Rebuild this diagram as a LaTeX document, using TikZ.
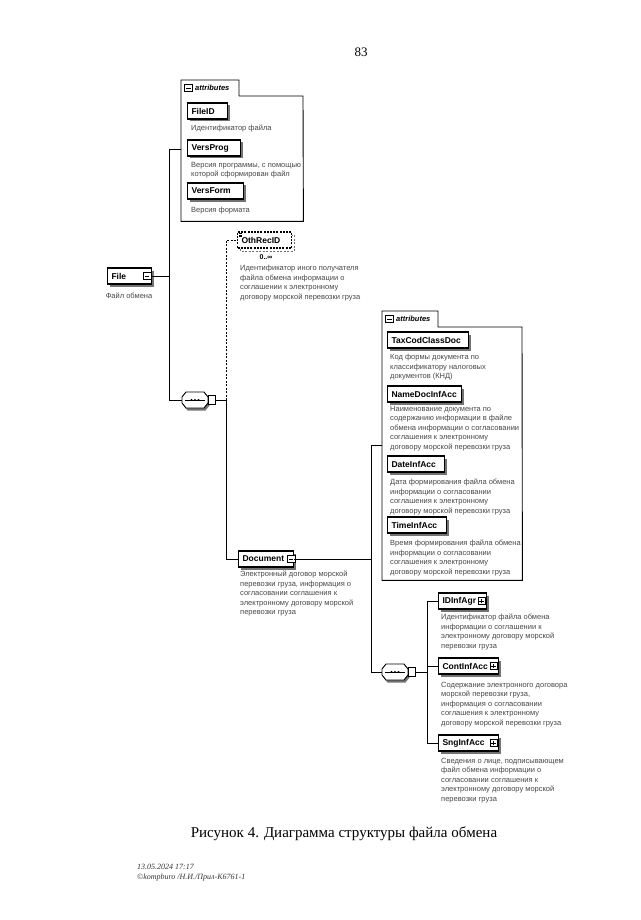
\documentclass[tikz,border=0pt]{standalone}
\usepackage{fontspec}
\setmainfont{Liberation Serif}
\setsansfont{Liberation Sans}
\usetikzlibrary{shadows}
\newcommand{\xseqpath}{(-13,-3) -- (-9,-8) -- (9,-8) -- (13,-3) -- (13,3) -- (9,8) -- (-9,8) -- (-13,3) -- cycle}
\tikzset{
  elem/.style={draw, fill=white, line width=1.1pt, font=\sffamily\bfseries\fontsize{8.5}{9}\selectfont,
    minimum height=16pt, inner xsep=4pt, inner ysep=0pt, align=left, anchor=west,
    drop shadow={shadow xshift=2.5pt, shadow yshift=-2.5pt, fill=black!55, opacity=1}},
  optelem/.style={draw, dash pattern=on 2pt off 1.2pt, fill=white, line width=1.1pt,
    font=\sffamily\bfseries\fontsize{8.5}{9}\selectfont,
    minimum height=16pt, inner xsep=4pt, inner ysep=0pt, align=left, anchor=west},
  desc/.style={anchor=north west, align=left, inner sep=0pt, font=\sffamily\fontsize{7.5}{9.5}\selectfont, text=black!72},
  mk/.style={draw, fill=white, minimum size=7.5pt, inner sep=0pt, line width=0.6pt},
  minusmk/.style={mk, path picture={\draw[line width=0.6pt] ([xshift=1.4pt]path picture bounding box.west) -- ([xshift=-1.4pt]path picture bounding box.east);}},
  plusmk/.style={mk, path picture={\draw[line width=0.6pt] ([xshift=1.4pt]path picture bounding box.west) -- ([xshift=-1.4pt]path picture bounding box.east);
      \draw[line width=0.6pt] ([yshift=-1.4pt]path picture bounding box.north) -- ([yshift=1.4pt]path picture bounding box.south);}},
  attrlbl/.style={font=\sffamily\bfseries\itshape\fontsize{7.5}{9}\selectfont, inner sep=0pt, anchor=west},
  attrframe/.style={draw, line width=0.9pt},
  seqline/.style={draw, fill=white, line width=0.9pt},
  seqshadow/.style={fill=black!55},
  seqsq/.style={draw, fill=white, line width=0.7pt, minimum width=7pt, minimum height=9pt, inner sep=0pt},
  conn/.style={line width=0.8pt},
  optconn/.style={line width=0.8pt, dash pattern=on 2pt off 1.5pt},
}
\begin{document}
\begin{tikzpicture}[x=1pt,y=-1pt]
\path[use as bounding box, fill=white] (0,0) rectangle (640,920);

% page number
\node[font=\fontsize{13}{15}\selectfont, inner sep=0pt] (pg) at (361,52) {83};

% ---------- attributes box 1 ----------
\node[inner sep=0pt, minimum width=122pt, minimum height=141pt, anchor=north west] (attrA) at (181,80) {};
\draw[attrframe] (attrA.south west) -- (attrA.north west) -- (239,80) -- (239,96) -- (303,96) -- (attrA.south east) -- cycle;
\node[minusmk] (attrAmk) at (188.5,88) {};
\node[attrlbl] (attrAtxt) at (195,88) {attributes};

\node[elem, text width=32pt] (FileID) at (187,111) {FileID};
\node[desc] (FileIDd) at (191,125) {Идентификатор файла};
\node[elem, text width=45pt] (VersProg) at (187,148) {VersProg};
\node[desc] (VersProgd) at (191,162) {Версия программы, с помощью\\которой сформирован файл};
\node[elem, text width=48pt] (VersForm) at (187,191) {VersForm};
\node[desc] (VersFormd) at (191,207) {Версия формата};

% ---------- File ----------
\node[elem, text width=36pt] (File) at (107,276) {File};
\node[minusmk] (Filemk) at ([xshift=-5pt]File.east) {};
\node[desc, anchor=north] (Filed) at (129,293) {Файл обмена};

% ---------- sequence 1 ----------
\node[inner sep=0pt, minimum width=26pt, minimum height=16pt] (seq1) at (195,400) {};
\begin{scope}[shift={(seq1.center)}]
  \fill[seqshadow, shift={(1.5,2.5)}] \xseqpath;
  \path[seqline] \xseqpath;
\end{scope}
\draw[line width=0.7pt] ([xshift=3pt]seq1.west) -- ([xshift=-3pt]seq1.east);
\fill (191.5,400) circle (1.1pt) (195,400) circle (1.1pt) (198.5,400) circle (1.1pt);
\node[seqsq] (seq1sq) at (212,400) {};

% ---------- OthRecID ----------
\draw[optconn, black!55, line width=1pt] (240,235) rectangle (294,251);
\node[optelem, text width=46pt] (OthRecID) at (237,240) {OthRecID};
\draw[line width=0.4pt] (238.5,233.5) -- (241.5,233.5) (238.5,235) -- (241.5,235) (238.5,236.5) -- (241.5,236.5);
\node[font=\sffamily\bfseries\fontsize{7}{8}\selectfont, inner sep=0pt] (OthRecIDm) at (266,257) {0..∞};
\node[desc] (OthRecIDd) at (240,265) {Идентификатор иного получателя\\файла обмена информации о\\соглашении к электронному\\договору морской перевозки груза};

% ---------- Document ----------
\node[elem, text width=47pt] (Document) at (238,559) {Document};
\node[minusmk] (Documentmk) at ([xshift=-3pt]Document.east) {};
\node[desc] (Documentd) at (240,571) {Электронный договор морской\\перевозки груза, информация о\\согласовании соглашения к\\электронному договору морской\\перевозки груза};

% ---------- attributes box 2 ----------
\node[inner sep=0pt, minimum width=140pt, minimum height=269pt, anchor=north west] (attrB) at (382,311) {};
\draw[attrframe] (attrB.south west) -- (attrB.north west) -- (438,311) -- (438,327) -- (522,327) -- (attrB.south east) -- cycle;
\node[minusmk] (attrBmk) at (389.5,319) {};
\node[attrlbl] (attrBtxt) at (396,319) {attributes};

\node[elem, text width=73pt] (TaxCod) at (387,340) {TaxCodClassDoc};
\node[desc] (TaxCodd) at (390,354) {Код формы документа по\\классификатору налоговых\\документов (КНД)};
\node[elem, text width=66pt] (NameDoc) at (387,394) {NameDocInfAcc};
\node[desc] (NameDocd) at (390,406) {Наименование документа по\\содержанию информации в файле\\обмена информации о согласовании\\соглашения к электронному\\договору морской перевозки груза};
\node[elem, text width=49pt] (DateInf) at (387,464) {DateInfAcc};
\node[desc] (DateInfd) at (390,479) {Дата формирования файла обмена\\информации о согласовании\\соглашения к электронному\\договору морской перевозки груза};
\node[elem, text width=51pt] (TimeInf) at (387,525) {TimeInfAcc};
\node[desc] (TimeInfd) at (390,540) {Время формирования файла обмена\\информации о согласовании\\соглашения к электронному\\договору морской перевозки груза};

% ---------- sequence 2 ----------
\node[inner sep=0pt, minimum width=26pt, minimum height=16pt] (seq2) at (395,672) {};
\begin{scope}[shift={(seq2.center)}]
  \fill[seqshadow, shift={(1.5,2.5)}] \xseqpath;
  \path[seqline] \xseqpath;
\end{scope}
\draw[line width=0.7pt] ([xshift=3pt]seq2.west) -- ([xshift=-3pt]seq2.east);
\fill (391.5,672) circle (1.1pt) (395,672) circle (1.1pt) (398.5,672) circle (1.1pt);
\node[seqsq] (seq2sq) at (412,672) {};

% ---------- children of sequence 2 ----------
\node[elem, text width=40pt] (IDInfAgr) at (438,601) {IDInfAgr};
\node[plusmk] (IDInfAgrmk) at ([xshift=-5.5pt]IDInfAgr.east) {};
\node[desc] (IDInfAgrd) at (441,614) {Идентификатор файла обмена\\информации о соглашении к\\электронному договору морской\\перевозки груза};
\node[elem, text width=52pt] (ContInf) at (438,666) {ContInfAcc};
\node[plusmk] (ContInfmk) at ([xshift=-5.5pt]ContInf.east) {};
\node[desc] (ContInfd) at (441,682) {Содержание электронного договора\\морской перевозки груза,\\информация о согласовании\\соглашения к электронному\\договору морской перевозки груза};
\node[elem, text width=52pt] (SngInf) at (438,743) {SngInfAcc};
\node[plusmk] (SngInfmk) at ([xshift=-5.5pt]SngInf.east) {};
\node[desc] (SngInfd) at (441,758) {Сведения о лице, подписывающем\\файл обмена информации о\\согласовании соглашения к\\электронному договору морской\\перевозки груза};

% ---------- connectors ----------
\coordinate (jAtop) at (169,149);
\coordinate (jAbot) at (169,400);
\draw[conn] (File.east) -- (File.east -| jAtop);
\draw[conn] (jAtop -| attrA.west) -- (jAtop) -- (jAbot) -- (seq1.west);
\coordinate (jB) at (226,400);
\draw[conn] (seq1sq.east) -- (jB);
\draw[optconn] (jB) -- (jB |- OthRecID.west) -- (OthRecID.west);
\draw[conn] (jB) -- (jB |- Document.west) -- (Document.west);
\coordinate (jCtop) at (371,445);
\coordinate (jCbot) at (371,672);
\draw[conn] (Document.east) -- (Document.east -| jCtop);
\draw[conn] (jCtop -| attrB.west) -- (jCtop) -- (jCbot) -- (seq2.west);
\coordinate (jD) at (427,672);
\draw[conn] (seq2sq.east) -- (jD);
\draw[conn] (IDInfAgr.west) -- (IDInfAgr.west -| jD) -- (SngInf.west -| jD) -- (SngInf.west);
\draw[conn] (ContInf.west) -- (ContInf.west -| jD);

% ---------- caption & footer ----------
\node[font=\fontsize{15}{18}\selectfont, inner sep=0pt] (caption) at (344,834) {Рисунок 4. Диаграмма структуры файла обмена};
\node[anchor=north west, align=left, inner sep=0pt, font=\itshape\fontsize{8}{10}\selectfont, text=black!80] (footer) at (137,864) {13.05.2024 17:17\\©kompburo /Н.И./Прил-К6761-1};
\end{tikzpicture}
\end{document}
